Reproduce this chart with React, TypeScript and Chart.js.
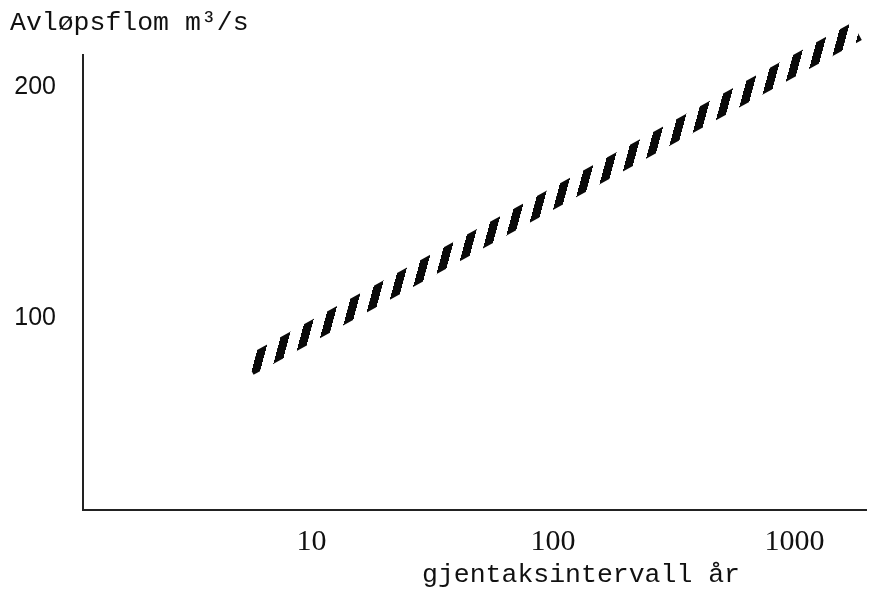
import React, { useEffect, useRef } from "react";
import { Chart, registerables } from "chart.js";

Chart.register(...registerables);

// Flood estimate against return period (log scale)
const returnPeriods = [5.5, 1815];
const floodFlows = [79.2, 224.4];

const xTickValues = [10, 100, 1000];
const yTickValues = [100, 200];

const Y_TITLE = "Avløpsflom m³/s";
const X_CAPTION = "gjentaksintervall år";

const INK = "#111111";

// Slanted hatch used to fill the thick estimate band
const STRIPE_PERIOD = 19.83;
const STRIPE_WIDTH = 8.5;
const STRIPE_LEAN = 0.27;
const STRIPE_PHASE = 14.64;

function makeHatch(): CanvasPattern | string {
  const tile = document.createElement("canvas");
  tile.width = 400;
  tile.height = 4;
  const t = tile.getContext("2d");
  if (!t) return INK;
  t.fillStyle = "#0a0a0a";
  t.fillRect(0, 0, (400 * STRIPE_WIDTH) / STRIPE_PERIOD, 4);
  const pattern = t.createPattern(tile, "repeat");
  if (!pattern) return INK;
  pattern.setTransform(
    new DOMMatrix([STRIPE_PERIOD / 400, 0, -STRIPE_LEAN, 1, STRIPE_PHASE, 0])
  );
  return pattern;
}

const captionPlugin = {
  id: "xCaption",
  afterDraw(chart: any) {
    const { ctx, chartArea } = chart;
    ctx.save();
    ctx.font = '26.5px "Liberation Mono"';
    ctx.fillStyle = INK;
    ctx.textAlign = "center";
    ctx.textBaseline = "alphabetic";
    ctx.fillText(X_CAPTION, chartArea.left + 498, chartArea.bottom + 72);
    ctx.restore();
  },
};

export default function App() {
  const canvasRef = useRef<HTMLCanvasElement | null>(null);

  useEffect(() => {
    const canvas = canvasRef.current;
    if (!canvas) return;

    const points = returnPeriods.map((x, i) => ({ x, y: floodFlows[i] }));

    const chart = new Chart(canvas, {
      type: "line",
      data: {
        datasets: [
          {
            data: points,
            borderColor: makeHatch() as any,
            borderWidth: 20,
            borderCapStyle: "butt",
            pointRadius: 0,
            tension: 0,
            fill: false,
            clip: false as any,
          },
        ],
      },
      plugins: [captionPlugin],
      options: {
        animation: false,
        responsive: false,
        maintainAspectRatio: false,
        layout: { padding: { left: 10, right: 3, top: 0, bottom: 0 } },
        plugins: {
          legend: { display: false },
          tooltip: { enabled: false },
          title: {
            display: true,
            text: Y_TITLE,
            align: "start",
            color: INK,
            font: { family: '"Liberation Mono"', size: 26.5, weight: "normal", lineHeight: 1.2 },
            padding: { top: 7, bottom: 16.2 },
          },
        },
        scales: {
          x: {
            type: "logarithmic",
            min: 1.132,
            max: 1977.6,
            grid: { display: false },
            border: { display: true, color: "#222", width: 2 },
            afterBuildTicks: (scale: any) => {
              scale.ticks = xTickValues.map((value) => ({ value }));
            },
            afterFit: (scale: any) => {
              scale.height = 79;
            },
            ticks: {
              color: INK,
              padding: 6,
              maxRotation: 0,
              autoSkip: false,
              font: { family: '"Liberation Serif"', size: 30 },
              callback: (v: any) => String(v),
            },
          },
          y: {
            type: "linear",
            min: 16.7,
            max: 214.1,
            grid: { display: false },
            border: { display: true, color: "#222", width: 2 },
            afterBuildTicks: (scale: any) => {
              scale.ticks = yTickValues.map((value) => ({ value }));
            },
            afterFit: (scale: any) => {
              scale.width = 73;
            },
            ticks: {
              color: INK,
              padding: 19,
              font: { family: '"Liberation Sans"', size: 25 },
              callback: (v: any) => String(v),
            },
          },
        },
      },
    });

    return () => chart.destroy();
  }, []);

  return (
    <div style={{ position: "fixed", left: 0, top: 0, width: 869, height: 589, background: "#fff" }}>
      <canvas ref={canvasRef} width={869} height={589} style={{ display: "block" }} />
    </div>
  );
}
